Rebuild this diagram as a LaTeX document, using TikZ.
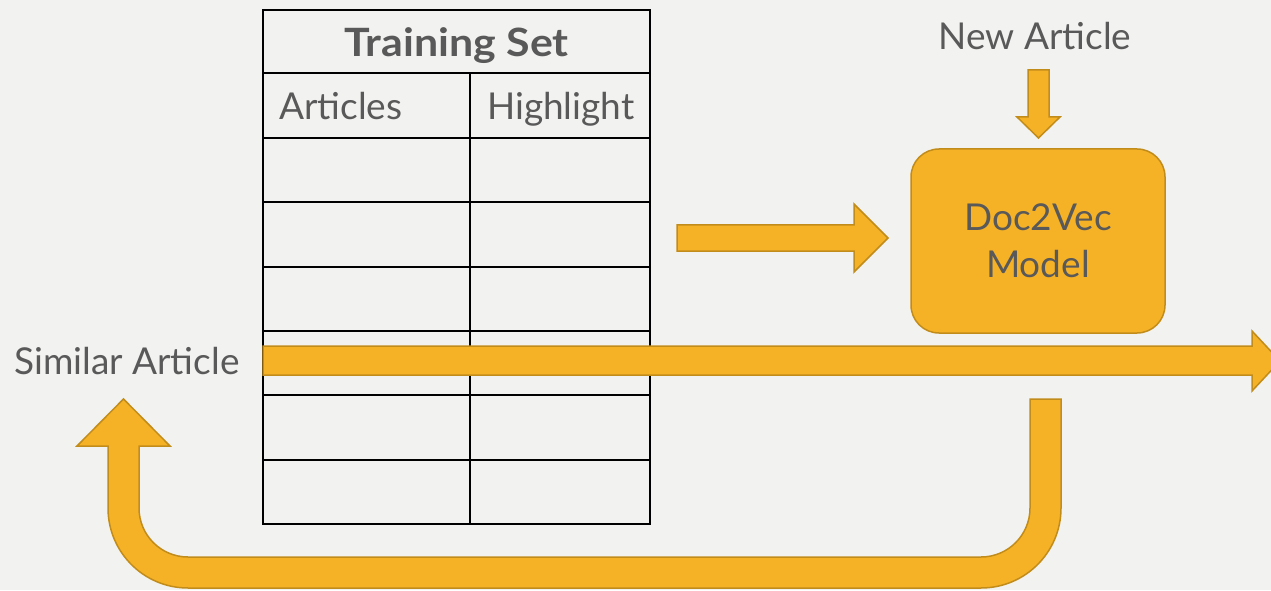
\documentclass[tikz,border=0pt]{standalone}
\usepackage{fontspec}
\setmainfont{Lato}
\usetikzlibrary{calc}
\definecolor{bgcol}{RGB}{242,242,240}
\definecolor{gold}{RGB}{246,178,38}
\definecolor{golddark}{RGB}{194,140,26}
\definecolor{txt}{RGB}{89,89,89}
\tikzset{
  blockarrow/.style={fill=gold, draw=golddark, line width=1.5pt, line join=miter},
  grid/.style={draw=black, line width=2pt},
  label/.style={text=txt, font=\fontsize{37}{40}\selectfont, inner sep=0pt},
  modelbox/.style={fill=gold, draw=golddark, line width=1.5pt, rounded corners=28pt,
    minimum width=254pt, minimum height=184pt, align=center, text=txt,
    font=\fontsize{37}{47}\selectfont}
}
\begin{document}
\begin{tikzpicture}[x=1pt,y=1pt]
\useasboundingbox (0,0) rectangle (1271,590);
\fill[bgcol] (0,0) rectangle (1271,590);
\clip (0,0) rectangle (1271,590);

% training set table
\coordinate (tl) at (263,580);
\coordinate (br) at (650,66);
\draw[grid] (tl) rectangle (br);
\foreach \y in {517,452,388,323,259,195,130}
  \draw[grid] (263,\y) -- (650,\y);
\draw[grid] (470,517) -- (470,66);
\node[label, anchor=base, font=\fontsize{39}{40}\selectfont\bfseries] (title) at (456.5,533)
  {\scalebox{1.1}[1]{Training Set}};
\node[label, anchor=base west] (colA) at (279,470) {Articles};
\node[label, anchor=base west] (colB) at (487,470) {Highlight};

% model and input
\node[modelbox] (model) at (1038,349) {Doc2Vec\\Model};
\node[label, anchor=base] (newart) at (1035,540) {New Article};
\node[label, anchor=base west] (simart) at (14,216) {Similar Article};

% arrow from the new article into the model
\draw[blockarrow] (1028,520) -- (1028,473) -- (1017,473) -- (1038.5,452) -- (1060,473)
  -- (1049,473) -- (1049,520) -- cycle;

% arrow from the table into the model
\draw[blockarrow] (677,365) -- (854,365) -- (854,386) -- (888,352) -- (854,318)
  -- (854,339) -- (677,339) -- cycle;

% long arrow across the table
\draw[blockarrow] (263,244) -- (1252,244) -- (1252,259) -- (1280,229) -- (1252,199)
  -- (1252,215) -- (263,215) -- cycle;

% U-shaped return arrow
\draw[blockarrow] (1061,191) -- (1061,82) arc[start angle=0, end angle=-90, radius=80]
  -- (188,2) arc[start angle=270, end angle=180, radius=80]
  -- (108,144) -- (77,144) -- (123.5,191) -- (170,144) -- (139,144)
  -- (139,82) arc[start angle=180, end angle=270, radius=49]
  -- (981,33) arc[start angle=-90, end angle=0, radius=49]
  -- (1030,191) -- cycle;
\end{tikzpicture}
\end{document}
